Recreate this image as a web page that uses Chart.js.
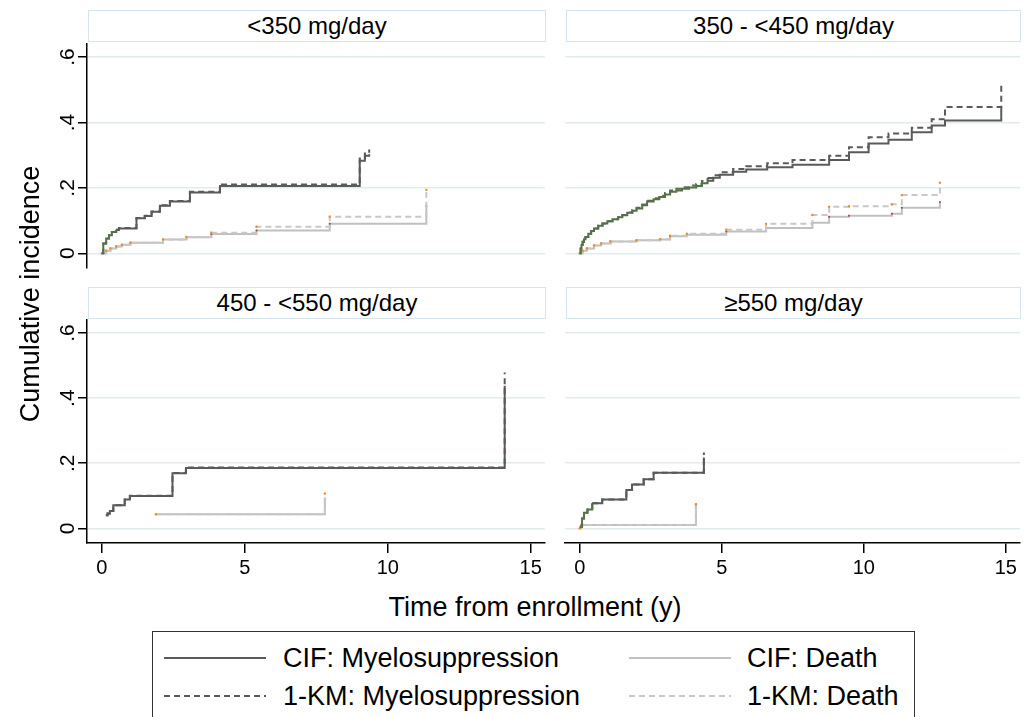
<!DOCTYPE html>
<html>
<head>
<meta charset="utf-8">
<script src="https://cdn.jsdelivr.net/npm/chart.js@4.4.1/dist/chart.umd.min.js"></script>
<style>
  body { margin: 0; background: #fff; width: 1026px; height: 717px; overflow: hidden; position: relative;
         font-family: 'Liberation Sans', Arial, sans-serif; color: #000; }
  canvas { position: absolute; }
  .ptitle { position: absolute; box-sizing: border-box; border: 1.5px solid #d8e4eb; background: #fff;
            height: 32px; line-height: 30px; text-align: center; font-size: 24px; }
  .axtitle { position: absolute; font-size: 27px; text-align: center; white-space: nowrap; }
  #legend { position: absolute; left: 152px; top: 631px; width: 763px; height: 95px; box-sizing: border-box;
            border: 1.5px solid #333; }
  .lg-line { position: absolute; height: 2px; width: 102px; }
  .lg-text { position: absolute; font-size: 27px; line-height: 30px; white-space: nowrap; }
</style>
</head>
<body>
<div class="ptitle" style="left:88px; top:10px; width:458px;" id="t0"></div>
<div class="ptitle" style="left:566px; top:10px; width:455px;" id="t1"></div>
<div class="ptitle" style="left:88px; top:287px; width:458px;" id="t2"></div>
<div class="ptitle" style="left:566px; top:287px; width:455px;" id="t3"></div>

<canvas id="c0" width="550" height="232" style="left:0px; top:40px;"></canvas>
<canvas id="c1" width="465" height="232" style="left:560px; top:40px;"></canvas>
<canvas id="c2" width="550" height="270" style="left:0px; top:316px;"></canvas>
<canvas id="c3" width="465" height="270" style="left:560px; top:316px;"></canvas>

<div class="axtitle" style="left:-170px; top:279px; width:400px; line-height:30px; transform: rotate(-90deg);">Cumulative incidence</div>
<div class="axtitle" style="left:235px; top:590px; width:600px; line-height:34px;">Time from enrollment (y)</div>

<div id="legend">
  <div class="lg-line" style="left:11px; top:25px; background:#5a5a5a;"></div>
  <div class="lg-text" style="left:130px; top:11px;" id="lg0"></div>
  <div class="lg-line" style="left:11px; top:63px; background:repeating-linear-gradient(to right, #5a5a5a 0 6px, transparent 6px 10px);"></div>
  <div class="lg-text" style="left:130px; top:49px;" id="lg1"></div>
  <div class="lg-line" style="left:476px; top:25px; background:#c0c0c0;"></div>
  <div class="lg-text" style="left:594px; top:11px;" id="lg2"></div>
  <div class="lg-line" style="left:476px; top:63px; background:repeating-linear-gradient(to right, #c8c8c8 0 6px, transparent 6px 10px);"></div>
  <div class="lg-text" style="left:594px; top:49px;" id="lg3"></div>
</div>

<script>
// axis ticks and labels
const xTicks = [0, 5, 10, 15];
const yTicks = [0, 0.2, 0.4, 0.6];
const panelTitles = ['<350 mg/day', '350 - <450 mg/day', '450 - <550 mg/day', '\u2265550 mg/day'];
const seriesNames = ['CIF: Myelosuppression', '1-KM: Myelosuppression', 'CIF: Death', '1-KM: Death'];

// <350 mg/day
const p1MyeloTime = [0, 0.05, 0.15, 0.25, 0.35, 0.5, 0.6, 1.21, 1.5, 1.74, 2.03, 2.38, 3.08, 4.13, 9.02, 9.2, 9.35];
const p1CifMyelo  = [0, 0.03, 0.045, 0.055, 0.065, 0.072, 0.076, 0.107, 0.114, 0.127, 0.145, 0.158, 0.186, 0.206, 0.283, 0.298, 0.303];
const p1KmMyelo   = [0, 0.03, 0.045, 0.055, 0.065, 0.072, 0.077, 0.108, 0.115, 0.128, 0.147, 0.160, 0.188, 0.210, 0.290, 0.305, 0.317];
const p1DeathTime = [0, 0.15, 0.3, 0.5, 0.7, 1.0, 2.14, 2.96, 3.83, 5.41, 7.97, 11.35];
const p1CifDeath  = [0, 0.008, 0.015, 0.021, 0.026, 0.032, 0.042, 0.049, 0.059, 0.070, 0.090, 0.145];
const p1KmDeath   = [0, 0.008, 0.015, 0.021, 0.026, 0.032, 0.042, 0.050, 0.063, 0.081, 0.112, 0.194];

// 350 - <450 mg/day
const p2MyeloTime = [0, 0.03, 0.06, 0.1, 0.15, 0.2, 0.3, 0.4, 0.5, 0.65, 0.8, 0.97, 1.15, 1.35, 1.5, 1.67, 1.85, 2.0, 2.2, 2.37, 2.6, 2.8, 3.0, 3.18, 3.4, 3.6, 3.85, 4.1, 4.3, 4.5, 4.7, 4.93, 5.4, 5.86, 6.6, 7.49, 8.78, 9.48, 10.17, 10.87, 11.69, 12.39, 12.86, 14.84];
const p2CifMyelo  = [0, 0.015, 0.025, 0.035, 0.043, 0.05, 0.06, 0.068, 0.076, 0.084, 0.091, 0.098, 0.104, 0.11, 0.116, 0.124, 0.13, 0.137, 0.147, 0.158, 0.165, 0.172, 0.18, 0.188, 0.192, 0.197, 0.201, 0.206, 0.214, 0.222, 0.231, 0.24, 0.249, 0.256, 0.263, 0.271, 0.285, 0.309, 0.336, 0.347, 0.37, 0.391, 0.406, 0.45];
const p2KmMyelo   = [0, 0.015, 0.025, 0.035, 0.043, 0.05, 0.06, 0.068, 0.076, 0.084, 0.091, 0.098, 0.104, 0.11, 0.117, 0.125, 0.132, 0.139, 0.149, 0.161, 0.168, 0.176, 0.184, 0.192, 0.197, 0.202, 0.207, 0.212, 0.221, 0.23, 0.239, 0.248, 0.258, 0.266, 0.275, 0.285, 0.298, 0.324, 0.355, 0.366, 0.384, 0.41, 0.447, 0.519];
const p2DeathTime = [0, 0.1, 0.25, 0.5, 0.75, 1.08, 2.0, 2.83, 3.18, 3.77, 5.16, 6.56, 8.19, 8.78, 9.48, 10.99, 11.34, 12.68];
const p2CifDeath  = [0, 0.008, 0.015, 0.024, 0.03, 0.036, 0.04, 0.042, 0.052, 0.057, 0.067, 0.077, 0.093, 0.112, 0.115, 0.121, 0.139, 0.157];
const p2KmDeath   = [0, 0.008, 0.015, 0.024, 0.03, 0.036, 0.04, 0.043, 0.054, 0.06, 0.072, 0.09, 0.117, 0.142, 0.144, 0.150, 0.178, 0.216];

// 450 - <550 mg/day
const p3MyeloTime = [0.14, 0.2, 0.28, 0.4, 0.8, 0.98, 2.47, 2.94, 14.09];
const p3CifMyelo  = [0.04, 0.046, 0.053, 0.071, 0.089, 0.099, 0.169, 0.185, 0.438];
const p3KmMyelo   = [0.04, 0.046, 0.053, 0.071, 0.089, 0.1, 0.17, 0.187, 0.479];
const p3DeathTime = [1.89, 7.8];
const p3CifDeath  = [0.043, 0.089];
const p3KmDeath   = [0.043, 0.107];

// >=550 mg/day
const p4MyeloTime = [0, 0.08, 0.15, 0.27, 0.44, 0.79, 1.64, 1.84, 2.25, 2.6, 4.37];
const p4CifMyelo  = [0.005, 0.03, 0.048, 0.058, 0.077, 0.089, 0.118, 0.135, 0.151, 0.171, 0.218];
const p4KmMyelo   = [0.005, 0.03, 0.048, 0.058, 0.077, 0.089, 0.118, 0.135, 0.151, 0.171, 0.233];
const p4DeathTime = [0, 0.05, 4.09];
const p4CifDeath  = [0, 0.01, 0.074];
const p4KmDeath   = [0, 0.01, 0.074];

const FONT = "'Liberation Sans', Arial, sans-serif";
const MYELO = '#5a5a5a';
const GREEN = '#55704a';
const greenUntil = [0.4, 4.4, 0, 0.3];

function pts(times, values) {
  return times.map((t, i) => ({ x: t, y: values[i] }));
}

// y tick labels in Stata style: rotated, no leading zero
const yLabels = {
  id: 'yLabels',
  afterDraw(chart, args, opts) {
    if (!opts.show) return;
    const s = chart.scales.y;
    const ctx = chart.ctx;
    ctx.save();
    ctx.font = '21px ' + FONT;
    ctx.fillStyle = '#000';
    ctx.textAlign = 'center';
    ctx.textBaseline = 'middle';
    s.ticks.forEach(t => {
      const label = t.value === 0 ? '0' : t.value.toFixed(1).replace(/^0/, '');
      ctx.save();
      ctx.translate(opts.x, s.getPixelForValue(t.value));
      ctx.rotate(-Math.PI / 2);
      ctx.fillText(label, 0, 0);
      ctx.restore();
    });
    ctx.restore();
  }
};

function makePanel(idx, series, showY, showX) {
  document.getElementById('t' + idx).textContent = panelTitles[idx];
  const g = greenUntil[idx];
  const myeloSeg = { borderColor: c => (c.p0.parsed.x < g ? GREEN : MYELO) };
  new Chart(document.getElementById('c' + idx), {
    type: 'line',
    data: {
      datasets: [
        { label: seriesNames[1], data: pts(series.myeloTime, series.kmMyelo), borderColor: MYELO, borderWidth: 2,
          borderDash: [6, 4], stepped: true, pointRadius: 0, segment: myeloSeg },
        { label: seriesNames[0], data: pts(series.myeloTime, series.cifMyelo), borderColor: MYELO, borderWidth: 2,
          stepped: true, pointRadius: 0, segment: myeloSeg },
        { label: seriesNames[3], data: pts(series.deathTime, series.kmDeath), borderColor: '#c8c8c8', borderWidth: 2,
          borderDash: [6, 4], stepped: true, pointRadius: 1.2, pointBorderWidth: 0, pointBackgroundColor: '#e8912d' },
        { label: seriesNames[2], data: pts(series.deathTime, series.cifDeath), borderColor: '#c0c0c0', borderWidth: 2,
          stepped: true, pointRadius: 1, pointBorderWidth: 0, pointBackgroundColor: '#a8403a' }
      ]
    },
    options: {
      responsive: false,
      animation: false,
      events: [],
      layout: { padding: { top: 4, bottom: showX ? 0 : 4, left: 0, right: 5 } },
      plugins: {
        legend: { display: false },
        tooltip: { enabled: false },
        yLabels: { show: showY, x: 68 }
      },
      scales: {
        x: {
          type: 'linear', min: -0.52, max: 15.5, display: showX,
          afterBuildTicks: s => { s.ticks = xTicks.map(v => ({ value: v })); },
          afterFit: s => { if (showX) s.height = 43; },
          grid: { drawOnChartArea: false, color: '#000', tickColor: '#000', tickLength: 10, lineWidth: 1.5 },
          border: { color: '#000', width: 1.5 },
          ticks: { font: { size: 20, family: FONT }, color: '#000', padding: 3, maxRotation: 0 }
        },
        y: {
          type: 'linear', min: -0.045, max: 0.64,
          afterBuildTicks: s => { s.ticks = yTicks.map(v => ({ value: v })); },
          afterFit: s => { s.width = showY ? 87 : 5; },
          grid: { color: '#e1ebf0', lineWidth: 1.5, tickColor: '#000', tickLength: 9, drawTicks: showY },
          border: { display: showY, color: '#000', width: 1.5 },
          ticks: { display: false }
        }
      }
    },
    plugins: [yLabels]
  });
}

// legend order in the box: CIF myelo, 1-KM myelo, CIF death, 1-KM death
seriesNames.forEach((n, i) => { document.getElementById('lg' + i).textContent = n; });

makePanel(0, { myeloTime: p1MyeloTime, cifMyelo: p1CifMyelo, kmMyelo: p1KmMyelo,
               deathTime: p1DeathTime, cifDeath: p1CifDeath, kmDeath: p1KmDeath }, true, false);
makePanel(1, { myeloTime: p2MyeloTime, cifMyelo: p2CifMyelo, kmMyelo: p2KmMyelo,
               deathTime: p2DeathTime, cifDeath: p2CifDeath, kmDeath: p2KmDeath }, false, false);
makePanel(2, { myeloTime: p3MyeloTime, cifMyelo: p3CifMyelo, kmMyelo: p3KmMyelo,
               deathTime: p3DeathTime, cifDeath: p3CifDeath, kmDeath: p3KmDeath }, true, true);
makePanel(3, { myeloTime: p4MyeloTime, cifMyelo: p4CifMyelo, kmMyelo: p4KmMyelo,
               deathTime: p4DeathTime, cifDeath: p4CifDeath, kmDeath: p4KmDeath }, false, true);
</script>
</body>
</html>
